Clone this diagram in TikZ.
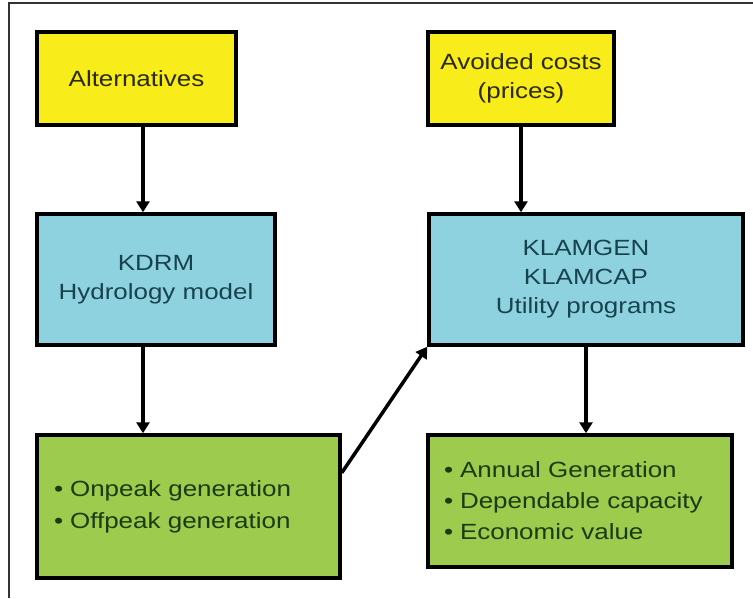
\documentclass[tikz,border=0pt]{standalone}
\usepackage{fontspec}
\setmainfont{Liberation Sans}[FakeStretch=1.18]
\usetikzlibrary{arrows.meta,calc}
\definecolor{yel}{HTML}{F8EC1A}
\definecolor{blu}{HTML}{8ED2E0}
\definecolor{grn}{HTML}{9CCB4E}
\definecolor{frame}{HTML}{333333}
\definecolor{ytxt}{HTML}{2A2A08}
\definecolor{btxt}{HTML}{17434E}
\definecolor{gtxt}{HTML}{1C3A10}
\begin{document}
\begin{tikzpicture}[x=1pt,y=-1pt,
  box/.style={draw=black,line width=3.5pt,inner sep=0pt,align=center,
    font=\fontsize{22}{29}\selectfont},
  ybox/.style={box,fill=yel,text=ytxt},
  bbox/.style={box,fill=blu,text=btxt},
  gbox/.style={box,fill=grn,text=gtxt,align=left,
    font=\fontsize{22}{32}\selectfont},
  arr/.style={line width=3.5pt,-{Triangle[length=11pt,width=13pt]}}]
\useasboundingbox (0,0) rectangle (753,598);
\fill[white] (0,0) rectangle (753,598);
\draw[frame,line width=2pt] (9,598) -- (9,3) -- (753,3);

\node[ybox,minimum width=199,minimum height=93] (alt) at (136.5,78.5) {Alternatives};
\node[ybox,minimum width=186,minimum height=93] (avo) at (521,78.5) {Avoided costs\\(prices)};
\node[bbox,minimum width=238,minimum height=131] (kdrm) at (156,279.5) {KDRM\\Hydrology model};
\node[bbox,minimum width=314,minimum height=131] (klam) at (586,279.5) {KLAMGEN\\KLAMCAP\\Utility programs};
\node[gbox,minimum width=303,minimum height=143,text width=269] (g1) at (188.5,506.5)
  {\textbullet\hspace{7pt}Onpeak generation\\\textbullet\hspace{7pt}Offpeak generation};
\node[gbox,minimum width=304,minimum height=132,text width=272,
  font=\fontsize{22}{31}\selectfont] (g2) at (580,501)
  {\textbullet\hspace{7pt}Annual Generation\\\textbullet\hspace{7pt}Dependable capacity\\\textbullet\hspace{7pt}Economic value};

\coordinate (lx) at (143,0);
\draw[arr] (alt.south -| lx) -- (kdrm.north -| lx);
\draw[arr] (kdrm.south -| lx) -- (g1.north -| lx);
\draw[arr] (avo.south) -- (avo.south |- klam.north);
\draw[arr] (klam.south) -- (klam.south |- g2.north);
\coordinate (gs) at ($(g1.north east)!0.27!(g1.south east)$);
\draw[arr] (gs) -- (klam.south west);
\end{tikzpicture}
\end{document}
